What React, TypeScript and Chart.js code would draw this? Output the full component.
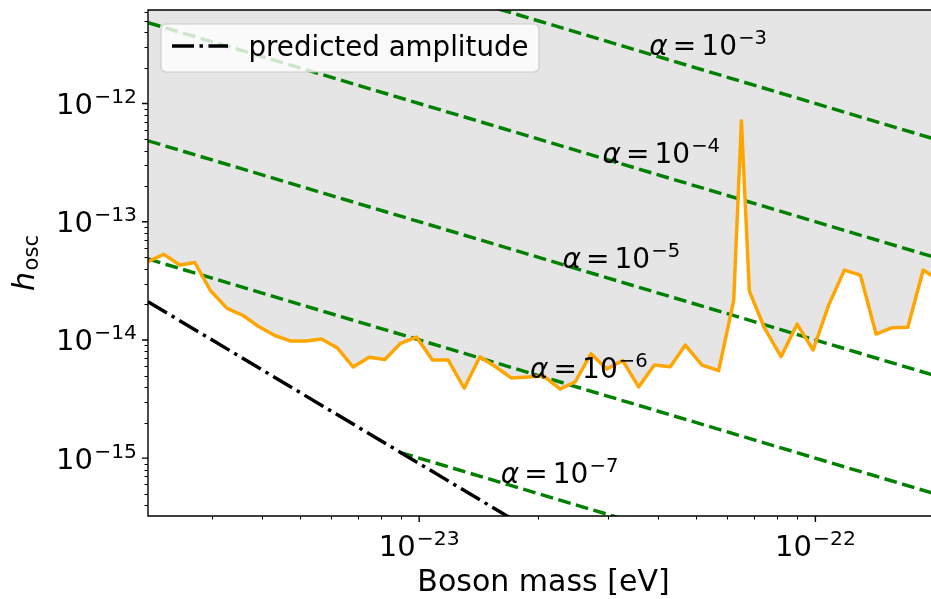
import React, { useEffect, useRef } from "react";
import { Chart, registerables } from "chart.js";

Chart.register(...registerables);

// ---------- data ----------
const bosonMass = [
  2.068e-24, 2.266e-24, 2.487e-24, 2.714e-24, 2.972e-24, 3.275e-24, 3.594e-24, 3.945e-24,
  4.321e-24, 4.743e-24, 5.192e-24, 5.666e-24, 6.22e-24, 6.813e-24, 7.477e-24, 8.191e-24,
  8.97e-24, 9.845e-24, 1.08e-23, 1.184e-23, 1.299e-23, 1.423e-23, 1.562e-23, 1.711e-23,
  1.879e-23, 2.063e-23, 2.27e-23, 2.477e-23, 2.714e-23, 2.975e-23, 3.265e-23, 3.579e-23,
  3.921e-23, 4.303e-23, 4.696e-23, 5.175e-23, 5.699e-23, 6.22e-23, 6.505e-23, 6.813e-23,
  7.447e-23, 8.191e-23, 8.99e-23, 9.867e-23, 1.08e-22, 1.184e-22, 1.299e-22, 1.423e-22,
  1.562e-22, 1.711e-22, 1.871e-22, 2.051e-22,
];
const hLimit = [
  4.59e-14, 5.3e-14, 4.3e-14, 4.52e-14, 2.62e-14, 1.85e-14, 1.61e-14, 1.29e-14,
  1.09e-14, 9.79e-15, 9.79e-15, 1.018e-14, 8.54e-15, 5.9e-15, 7.13e-15, 6.83e-15,
  9.36e-15, 1.058e-14, 6.76e-15, 6.76e-15, 3.9e-15, 7.21e-15, 5.9e-15, 4.76e-15,
  4.86e-15, 4.95e-15, 3.84e-15, 4.43e-15, 7.64e-15, 5.67e-15, 6.69e-15, 4.0e-15,
  6.13e-15, 5.94e-15, 9.05e-15, 6.13e-15, 5.49e-15, 2.15e-14, 7.15e-13, 2.59e-14,
  1.25e-14, 7.21e-15, 1.36e-14, 8.21e-15, 1.97e-14, 3.9e-14, 3.54e-14, 1.12e-14,
  1.27e-14, 1.28e-14, 3.9e-14, 3.21e-14,
];

const predictedMass = [2.068e-24, 2.051e-22];
const predictedAmp = [2.104e-14, 2.139e-18];

const alphaExp = ["−3", "−4", "−5", "−6", "−7"];
const alphaStartMass = [2.068e-24, 2.068e-24, 2.068e-24, 2.068e-24, 8.97e-24];
const alphaEndMass = [2.051e-22, 2.051e-22, 2.051e-22, 2.051e-22, 2.051e-22];
const alphaStartH = [4.836e-11, 4.836e-12, 4.836e-13, 4.836e-14, 1.115e-15];
const alphaEndH = [4.876e-13, 4.876e-14, 4.876e-15, 4.876e-16, 4.876e-17];
const alphaLabelMass = [3.81e-23, 2.9e-23, 2.3e-23, 1.905e-23, 1.607e-23];
const alphaLabelH = [2.57e-12, 3.14e-13, 4.06e-14, 4.77e-15, 6.15e-16];

const xMin = 2.068e-24;
const xMax = 2.051e-22;
const yMin = 3.24e-16;
const yMax = 6.18e-12;

const xMajorTicks = [1e-23, 1e-22];
const xTickExp = ["−23", "−22"];
const yMajorTicks = [1e-15, 1e-14, 1e-13, 1e-12];
const yTickExp = ["−15", "−14", "−13", "−12"];
const minorMultipliers = [2, 3, 4, 5, 6, 7, 8, 9];

const legendLabel = "predicted amplitude";
const xTitle = "Boson mass [eV]";

// ---------- drawing helpers ----------
const FAM = '"DejaVu Sans", "Liberation Sans", sans-serif';
const LW = 3.45;
const DASH = [12.8, 5.5];
const DASHDOT = [22, 5.5, 3.45, 5.5];

type Part = { t: string; size: number; italic?: boolean; dy?: number; gap?: number };

function fontOf(p: Part) {
  return `${p.italic ? "italic " : ""}${p.size}px ${FAM}`;
}

function drawParts(ctx: CanvasRenderingContext2D, parts: Part[], x: number, y: number, align: string) {
  const widths = parts.map((p) => {
    ctx.font = fontOf(p);
    return ctx.measureText(p.t).width;
  });
  let total = 0;
  parts.forEach((p, i) => (total += (p.gap || 0) + widths[i]));
  let cx = align === "left" ? x : align === "center" ? x - total / 2 : x - total;
  ctx.textBaseline = "alphabetic";
  ctx.textAlign = "left";
  parts.forEach((p, i) => {
    cx += p.gap || 0;
    ctx.font = fontOf(p);
    ctx.fillText(p.t, cx, y + (p.dy || 0));
    cx += widths[i];
  });
}

function sciParts(exp: string, S: number): Part[] {
  const xh = 0.547 * S;
  return [
    { t: "10", size: S },
    { t: exp, size: 0.7 * S, dy: -0.7 * xh, gap: 0.075 * xh },
  ];
}

const decorPlugin = {
  id: "decor",
  afterDraw(chart: any) {
    const ctx: CanvasRenderingContext2D = chart.ctx;
    const { left, right, top, bottom } = chart.chartArea;
    const xs = chart.scales.x;
    const ys = chart.scales.y;
    const S = 29;
    const SA = 28;
    const ST = 30;
    ctx.save();
    ctx.fillStyle = "#000";
    ctx.strokeStyle = "#000";

    // alpha labels
    alphaExp.forEach((e, i) => {
      const px = xs.getPixelForValue(alphaLabelMass[i]);
      const py = ys.getPixelForValue(alphaLabelH[i]);
      const xh = 0.547 * SA;
      const sp = 0.18 * SA;
      drawParts(
        ctx,
        [
          { t: "α", size: SA, italic: true },
          { t: "=", size: SA, gap: sp },
          { t: "10", size: SA, gap: sp },
          { t: e, size: 0.7 * SA, dy: -0.7 * xh, gap: 0.075 * xh },
        ],
        px,
        py,
        "left"
      );
    });

    // spines
    ctx.lineWidth = 1.4;
    ctx.setLineDash([]);
    ctx.beginPath();
    ctx.moveTo(left, top);
    ctx.lineTo(right, top);
    ctx.lineTo(right, bottom);
    ctx.lineTo(left, bottom);
    ctx.closePath();
    ctx.stroke();

    // ticks
    const minorVals = (lo: number, hi: number) => {
      const out: number[] = [];
      for (let d = Math.floor(Math.log10(lo)); d <= Math.ceil(Math.log10(hi)); d++) {
        minorMultipliers.forEach((k) => {
          const v = k * Math.pow(10, d);
          if (v >= lo && v <= hi) out.push(v);
        });
      }
      return out;
    };
    ctx.lineWidth = 1.0;
    ctx.beginPath();
    minorVals(xMin, xMax).forEach((v) => {
      const px = Math.round(xs.getPixelForValue(v)) + 0.5;
      ctx.moveTo(px, bottom);
      ctx.lineTo(px, bottom + 3.5);
    });
    minorVals(yMin, yMax).forEach((v) => {
      const py = Math.round(ys.getPixelForValue(v)) + 0.5;
      ctx.moveTo(left, py);
      ctx.lineTo(left - 3.5, py);
    });
    ctx.stroke();
    ctx.lineWidth = 1.4;
    ctx.beginPath();
    xMajorTicks.forEach((v) => {
      const px = xs.getPixelForValue(v);
      ctx.moveTo(px, bottom);
      ctx.lineTo(px, bottom + 6);
    });
    yMajorTicks.forEach((v) => {
      const py = ys.getPixelForValue(v);
      ctx.moveTo(left, py);
      ctx.lineTo(left - 6, py);
    });
    ctx.stroke();

    // tick labels
    xMajorTicks.forEach((v, i) => {
      const px = xs.getPixelForValue(v);
      drawParts(ctx, sciParts(xTickExp[i], S), px, bottom + 40, "center");
    });
    yMajorTicks.forEach((v, i) => {
      const py = ys.getPixelForValue(v);
      drawParts(ctx, sciParts(yTickExp[i], S), left - 11, py + 10.5, "right");
    });

    // axis titles
    drawParts(ctx, [{ t: xTitle, size: ST }], (left + right) / 2, 591, "center");
    ctx.save();
    ctx.translate(33.5, (top + bottom) / 2);
    ctx.rotate(-Math.PI / 2);
    drawParts(
      ctx,
      [
        { t: "h", size: ST, italic: true },
        { t: "osc", size: 0.7 * ST, dy: 0.3 * 0.547 * ST, gap: 1.5 },
      ],
      0,
      0,
      "center"
    );
    ctx.restore();

    // legend
    const bx = left + 13;
    const by = top + 14;
    const bw = 378;
    const bh = 48;
    const r = 5;
    ctx.beginPath();
    ctx.moveTo(bx + r, by);
    ctx.lineTo(bx + bw - r, by);
    ctx.arcTo(bx + bw, by, bx + bw, by + r, r);
    ctx.lineTo(bx + bw, by + bh - r);
    ctx.arcTo(bx + bw, by + bh, bx + bw - r, by + bh, r);
    ctx.lineTo(bx + r, by + bh);
    ctx.arcTo(bx, by + bh, bx, by + bh - r, r);
    ctx.lineTo(bx, by + r);
    ctx.arcTo(bx, by, bx + r, by, r);
    ctx.closePath();
    ctx.fillStyle = "rgba(255,255,255,0.8)";
    ctx.fill();
    ctx.strokeStyle = "rgb(204,204,204)";
    ctx.lineWidth = 1.2;
    ctx.stroke();

    ctx.strokeStyle = "#000";
    ctx.lineWidth = LW;
    ctx.setLineDash(DASHDOT);
    ctx.lineCap = "butt";
    ctx.beginPath();
    ctx.moveTo(bx + 11, by + 22);
    ctx.lineTo(bx + 67, by + 22);
    ctx.stroke();
    ctx.setLineDash([]);
    ctx.fillStyle = "#000";
    drawParts(ctx, [{ t: legendLabel, size: 27.7 }], bx + 87.5, by + 31.5, "left");

    ctx.restore();
  },
};

export default function App() {
  const ref = useRef<HTMLCanvasElement | null>(null);

  useEffect(() => {
    document.body.style.margin = "0";
    const canvas = ref.current;
    if (!canvas) return;

    const pts = (xsArr: number[], ysArr: number[]) => xsArr.map((x, i) => ({ x, y: ysArr[i] }));

    const alphaSets = alphaExp.map((e, i) => ({
      label: "alpha 10^" + e,
      data: [
        { x: alphaStartMass[i], y: alphaStartH[i] },
        { x: alphaEndMass[i], y: alphaEndH[i] },
      ],
      borderColor: "#008000",
      borderWidth: LW,
      borderDash: DASH,
      pointRadius: 0,
      fill: false,
      clip: 0,
    }));

    const chart = new Chart(canvas, {
      type: "line",
      data: {
        datasets: [
          {
            label: "limit",
            data: pts(bosonMass, hLimit),
            borderColor: "#ffa500",
            borderWidth: LW,
            pointRadius: 0,
            fill: "end",
            backgroundColor: "#e5e5e5",
            borderJoinStyle: "round",
            clip: 0,
          },
          {
            label: legendLabel,
            data: pts(predictedMass, predictedAmp),
            borderColor: "#000",
            borderWidth: LW,
            borderDash: DASHDOT,
            pointRadius: 0,
            fill: false,
            clip: 0,
          },
          ...alphaSets,
        ] as any,
      },
      options: {
        animation: false,
        responsive: false,
        devicePixelRatio: 1,
        events: [],
        layout: { padding: { left: 148, top: 10, right: 11, bottom: 83 } },
        scales: {
          x: { type: "logarithmic", min: xMin, max: xMax, bounds: "data", display: false },
          y: { type: "logarithmic", min: yMin, max: yMax, bounds: "data", display: false },
        },
        plugins: {
          legend: { display: false },
          tooltip: { enabled: false },
          filler: { drawTime: "beforeDatasetsDraw" },
        } as any,
      } as any,
      plugins: [decorPlugin],
    });

    return () => chart.destroy();
  }, []);

  return (
    <div style={{ width: 931, height: 599, overflow: "hidden", position: "relative", background: "#fff" }}>
      <canvas ref={ref} width={950} height={599} style={{ width: 950, height: 599, display: "block" }} />
    </div>
  );
}
